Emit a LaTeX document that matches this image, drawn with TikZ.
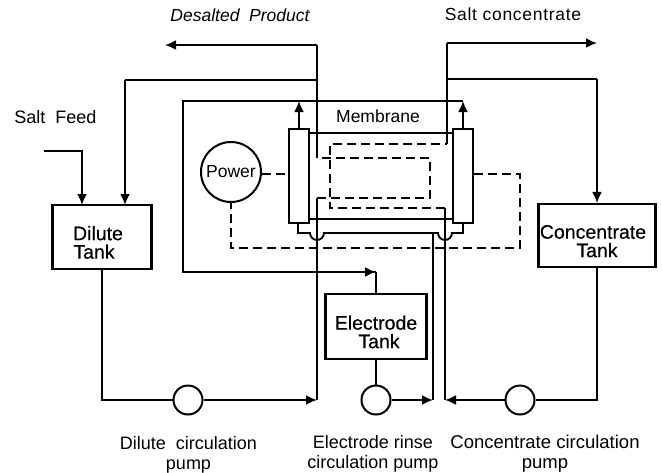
\documentclass[tikz,border=0pt]{standalone}
\usepackage{fontspec}
\setmainfont{Liberation Sans}
\usetikzlibrary{arrows.meta}
\tikzset{
  line/.style={line width=1.9pt,line join=miter},
  flow/.style={line,-{Latex[length=11pt,width=10pt]}},
  dashln/.style={line width=1.9pt,dash pattern=on 9pt off 5pt},
  tank/.style={draw,line width=2.1pt,inner sep=0pt,align=center,font=\fontsize{19.5}{18.5}\selectfont\addfontfeatures{FakeBold=0.4},fill=white},
  pump/.style={draw,circle,line width=2pt,minimum size=29pt,inner sep=0pt,fill=white},
  elec/.style={draw,line width=1.9pt,minimum width=20pt,minimum height=94pt,inner sep=0pt,fill=white},
  lbl/.style={inner sep=0pt,align=center,font=\fontsize{18}{20}\selectfont},
}
\newcommand{\lowerfirst}{\rule{0pt}{25pt}}
\begin{document}
\begin{tikzpicture}[x=1pt,y=-1pt]
\useasboundingbox (0,0) rectangle (662,472);
% coordinates
\coordinate (feed) at (44,151);
\coordinate (feedc) at (82,151);
\coordinate (dtin) at (82,205);
\coordinate (prod) at (165,45);
\coordinate (prodc) at (317,45);
\coordinate (dbr) at (317,80);
\coordinate (dbrc) at (125,80);
\coordinate (dtin2) at (125,205);
\coordinate (salt) at (597,43);
\coordinate (saltc) at (447,43);
\coordinate (cbr) at (447,79);
\coordinate (cbrc) at (597,79);
\coordinate (dc) at (317,158);
\coordinate (dd) at (430,158);
\coordinate (de) at (430,198);
\coordinate (df) at (317,198);
\coordinate (dg) at (317,400);
\coordinate (ca) at (447,144);
\coordinate (cb) at (330,144);
\coordinate (cc) at (330,208);
\coordinate (cd) at (445,208);
\coordinate (ce) at (445,400);
\coordinate (ea) at (183,101);
\coordinate (eb) at (183,272);
\coordinate (ec) at (376,272);
\coordinate (er) at (463,101);
\coordinate (el) at (299,101);
\coordinate (rr) at (433,400);
\coordinate (ra) at (433,233);
\coordinate (pa) at (231,248);
\coordinate (pb) at (520,248);
\coordinate (pc) at (520,174);
% components
\node[elec] (le) at (299,176) {};
\node[elec] (re) at (463,176) {};
\node[tank,minimum width=99pt,minimum height=64pt] (dt) at (102,237) {\lowerfirst Dilute\hspace*{8pt}\\Tank\hspace*{16pt}};
\node[tank,minimum width=117pt,minimum height=63pt] (ct) at (597,235.5) {\lowerfirst Concentrate\hspace*{8pt}\\Tank};
\node[tank,minimum width=101pt,minimum height=65pt] (et) at (376,326.5) {\lowerfirst Electrode\\Tank\hspace*{-6pt}};
\node[pump] (dp) at (188,400) {};
\node[pump] (ep) at (376,400) {};
\node[pump] (cp) at (520,400) {};
\node[draw,circle,line width=2pt,minimum size=60pt,inner sep=0pt,font=\fontsize{17.5}{18}\selectfont] (pw) at (231,172) {Power};
% membrane lines
\draw[line] (le.east |- 0,133) -- (re.west |- 0,133);
\draw[line] (le.east |- 0,219) -- (re.west |- 0,219);
% feed
\draw[flow] (feed) -- (feedc) -- (dtin);
% dilute loop
\draw[line] (dt.south) -- (dt.south |- dp.west) -- (dp.west);
\draw[flow] (dp.east) -- (dg);
\draw[line] (dg) -- (df);
\draw[dashln] (df) -- (de) -- (dd) -- (dc);
\draw[line] (dc) -- (prodc);
\draw[flow] (prodc) -- (prod);
\draw[line] (dbr) -- (dbrc);
\draw[flow] (dbrc) -- (dtin2);
% concentrate loop
\draw[line] (ct.south) -- (ct.south |- cp.east) -- (cp.east);
\draw[flow] (cp.west) -- (ce);
\draw[line] (ce) -- (cd);
\draw[dashln] (cd) -- (cc) -- (cb) -- (ca);
\draw[line] (ca) -- (saltc);
\draw[flow] (saltc) -- (salt);
\draw[line] (cbr) -- (cbrc);
\draw[flow] (cbrc) -- (ct.north);
% electrode rinse
\draw[line] (et.south) -- (ep.north);
\draw[flow] (ep.east) -- (rr);
\draw[line] (rr) -- (ra);
\draw[line] (298,223) -- (298,233) -- (310,233) arc[start angle=180,end angle=0,radius=7] -- (ra)
  -- (438,233) arc[start angle=180,end angle=0,radius=7] -- (463,233) -- (463,223);
\draw[flow] (le.north) -- (el);
\draw[flow] (re.north) -- (er);
\draw[line] (er) -- (ea) -- (eb) -- (ec);
\draw[line] (ec) -- (et.north);
\draw[flow] (eb) -- (ec);
% power wiring
\draw[dashln] (pw.east |- 0,174) -- (le.west |- 0,174);
\draw[dashln] (re.east |- 0,174) -- (pc) -- (pb) -- (pa) -- (pw.south);
% labels
\node[lbl,font=\fontsize{17.5}{20}\selectfont\itshape] (t1) at (240,15) {Desalted\; Product};
\node[lbl,font=\fontsize{17.5}{20}\selectfont\addfontfeatures{LetterSpace=4}] (t2) at (513,14) {Salt concentrate};
\node[lbl] (t3) at (55.5,117) {Salt\; Feed};
\node[lbl,font=\fontsize{17.5}{20}\selectfont] (t4) at (378,116) {Membrane};
\node[lbl] (t5) at (188.5,454.5) {Dilute\; circulation\\pump};
\node[lbl] (t6) at (373,453.5) {Electrode rinse\\circulation pump};
\node[lbl,font=\fontsize{18.5}{20}\selectfont] (t7) at (545,453.5) {Concentrate circulation\\pump};
\end{tikzpicture}
\end{document}
